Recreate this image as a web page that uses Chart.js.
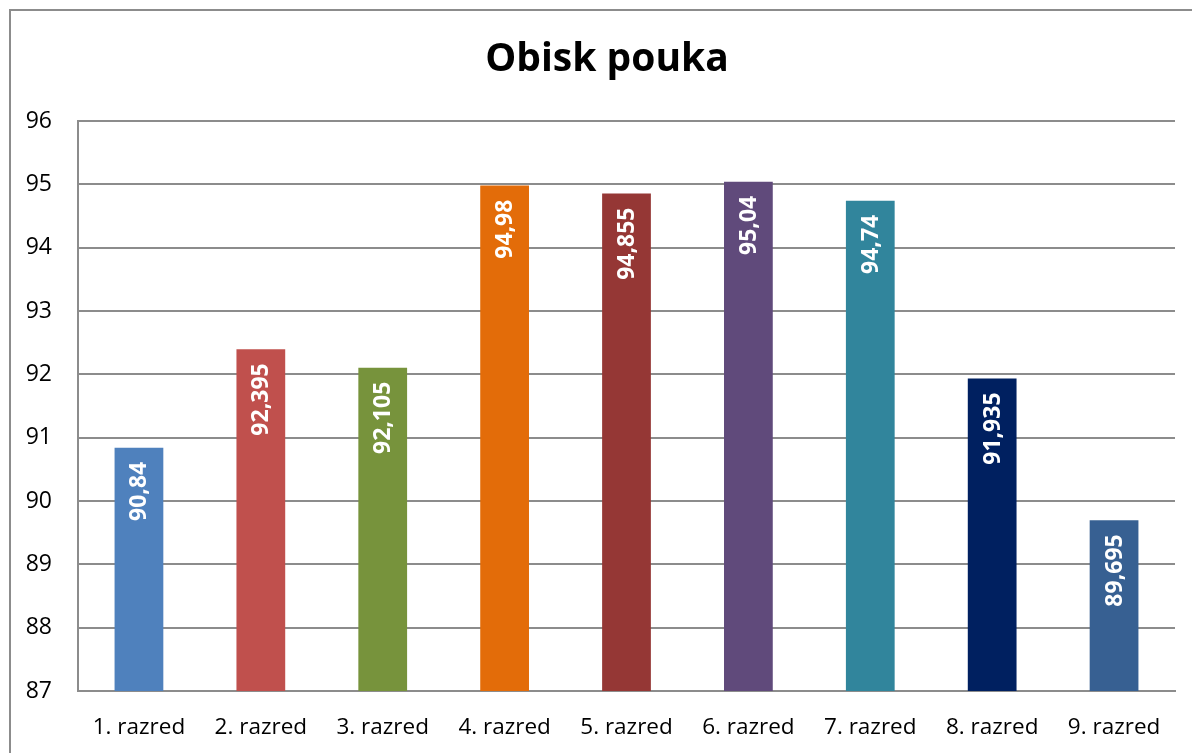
<!DOCTYPE html>
<html>
<head>
<meta charset="utf-8">
<script src="https://cdn.jsdelivr.net/npm/chart.js@4/dist/chart.umd.min.js"></script>
<style>
html,body{margin:0;padding:0;background:#fff;}
#wrap{width:1192px;height:753px;position:relative;}
</style>
</head>
<body>
<div id="wrap"><canvas id="c" width="1192" height="753"></canvas></div>
<script>
const categories = ['1. razred','2. razred','3. razred','4. razred','5. razred','6. razred','7. razred','8. razred','9. razred'];
const values = [90.84, 92.395, 92.105, 94.98, 94.855, 95.04, 94.74, 91.935, 89.695];
const barColors = ['#4F81BD','#C0504D','#77933C','#E36C09','#953735','#604A7B','#31859C','#002060','#376092'];
const chartTitle = 'Obisk pouka';
const yMin = 87, yMax = 96, yStep = 1;

const FONT = '"Open Sans", Lato, sans-serif';

const frame = {
  id: 'frame',
  beforeDraw(chart) {
    const c = chart.ctx;
    c.save();
    c.fillStyle = '#fff';
    c.fillRect(0, 0, chart.width, chart.height);
    c.strokeStyle = '#8c8c8c';
    c.lineWidth = 2;
    c.beginPath();
    c.moveTo(10, chart.height);
    c.lineTo(10, 10);
    c.lineTo(chart.width, 10);
    c.stroke();
    c.restore();
  },
  afterDraw(chart) {
    const c = chart.ctx;
    c.save();
    c.fillStyle = '#000';
    c.font = 'bold 39px ' + FONT;
    c.textAlign = 'center';
    c.textBaseline = 'alphabetic';
    c.fillText(chartTitle, 607, 71);
    c.restore();
  }
};

const barLabels = {
  id: 'barLabels',
  afterDatasetsDraw(chart) {
    const c = chart.ctx;
    const meta = chart.getDatasetMeta(0);
    c.save();
    c.fillStyle = '#fff';
    c.font = 'bold 23px ' + FONT;
    c.textAlign = 'right';
    c.textBaseline = 'middle';
    meta.data.forEach((el, i) => {
      const txt = String(values[i]).replace('.', ',');
      c.save();
      c.translate(el.x + 1, el.y + 14);
      c.rotate(-Math.PI / 2);
      c.fillText(txt, 0, 0);
      c.restore();
    });
    c.restore();
  }
};

new Chart(document.getElementById('c'), {
  type: 'bar',
  data: {
    labels: categories,
    datasets: [{
      data: values,
      backgroundColor: barColors,
      borderWidth: 0,
      barPercentage: 0.8,
      categoryPercentage: 0.5
    }]
  },
  options: {
    responsive: false,
    animation: false,
    devicePixelRatio: 1,
    layout: { padding: { left: 0, right: 17, top: 121, bottom: 0 } },
    plugins: {
      legend: { display: false },
      tooltip: { enabled: false },
      title: { display: false }
    },
    scales: {
      x: {
        grid: { display: false, drawTicks: false },
        border: { display: true, color: '#8c8c8c', width: 2 },
        ticks: { color: '#000', font: { family: FONT, size: 22.5 }, padding: 23, maxRotation: 0 },
        afterFit(s) { s.height = 62; }
      },
      y: {
        min: yMin, max: yMax,
        grid: { color: '#8c8c8c', lineWidth: 2, drawTicks: false },
        border: { display: true, color: '#8c8c8c', width: 2 },
        ticks: { stepSize: yStep, color: '#000', font: { family: FONT, size: 23 }, padding: 26 },
        afterFit(s) { s.width = 78; }
      }
    }
  },
  plugins: [frame, barLabels]
});
</script>
</body>
</html>
